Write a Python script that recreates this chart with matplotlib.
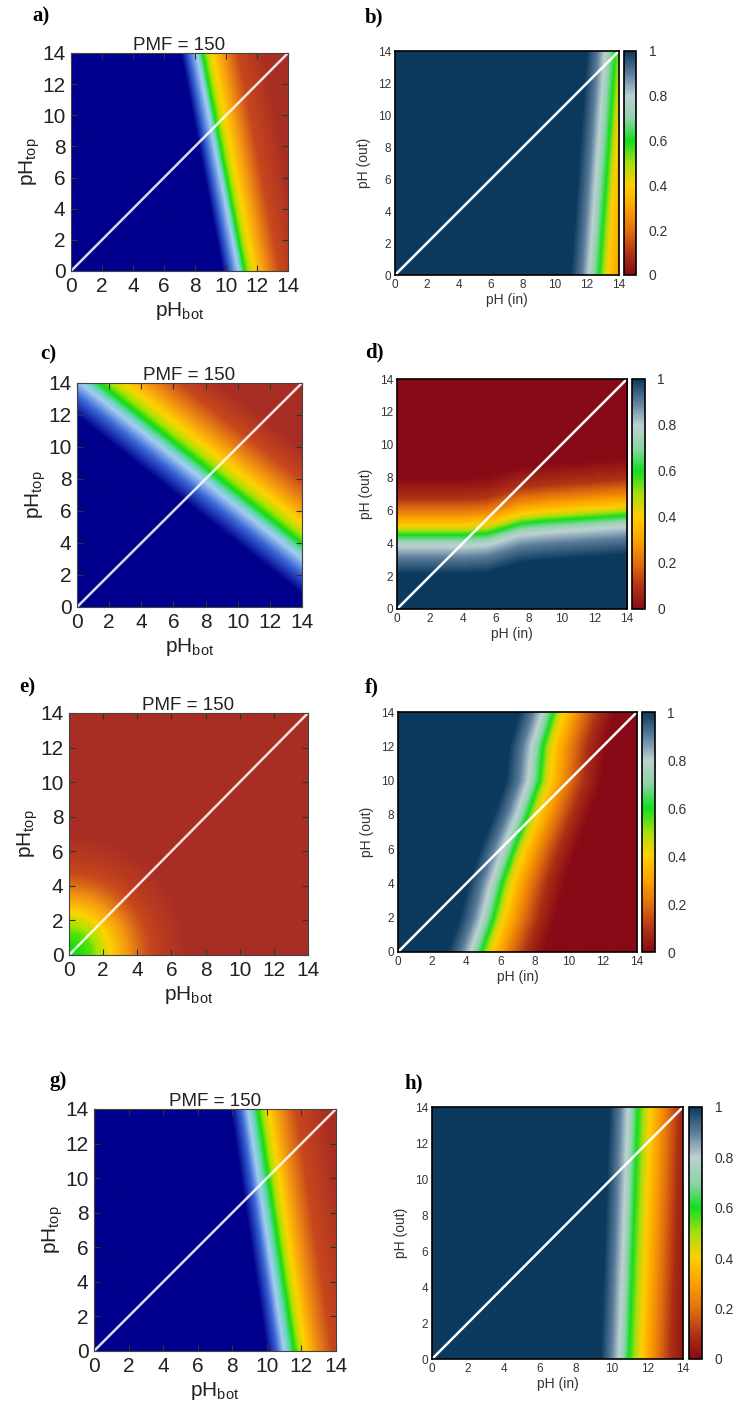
import numpy as np
import matplotlib.pyplot as plt
from matplotlib.colors import LinearSegmentedColormap

plt.rcParams['font.family'] = ['Liberation Sans', 'DejaVu Sans']
plt.rcParams['mathtext.default'] = 'regular'

W, H = 742, 1414

# colour scales, value 1 = blue side, 0 = red side
left_stops = [0.0, 0.15, 0.3, 0.42, 0.52, 0.6, 0.68, 0.76, 0.86, 1.0]
left_colors = ['#A82E24', '#C8481C', '#F59A10', '#FFD200', '#A6E400',
               '#12DC12', '#66D6B8', '#A4CCF2', '#3A66D6', '#00008C']
right_stops = [0.0, 0.1, 0.2, 0.3, 0.4, 0.5, 0.6, 0.7, 0.8, 0.9, 1.0]
right_colors = ['#880A16', '#B23414', '#E2700E', '#FCA200', '#FFCE00', '#A8DE10',
                '#12DE1E', '#8CD4A8', '#BCD0D2', '#5C7E9C', '#0B3A5E']

ticks = [0, 2, 4, 6, 8, 10, 12, 14]
cbar_ticks = [0, 0.2, 0.4, 0.6, 0.8, 1]
cbar_labels = ['0', '0.2', '0.4', '0.6', '0.8', '1']
diag_ph = [0, 14]

# a) green band position (pH_bot) along pH_top, and profile across it
a_y = [0, 14]
a_x = [11.2, 8.5]
a_offs = [-1.4, -0.9, -0.4, 0.0, 0.5, 1.3, 2.3, 4.0]
a_levs = [1.0, 0.86, 0.76, 0.6, 0.45, 0.3, 0.15, 0.0]

# b)
b_y = [0, 14]
b_x = [12.8, 13.8]
b_offs = [-1.8, -1.1, -0.6, 0.0, 0.5, 1.2, 2.5, 4.0]
b_levs = [1.0, 0.9, 0.78, 0.6, 0.4, 0.3, 0.15, 0.0]

# c)
c_y = [0, 14]
c_x = [19.0, 1.4]
c_offs = [-4.0, -2.4, -1.2, 0.0, 1.3, 2.9, 5.0, 7.5]
c_levs = [1.0, 0.86, 0.76, 0.6, 0.45, 0.3, 0.15, 0.0]

# d) green band position (pH out) along pH in
d_x = [0, 4, 5.5, 6.5, 7.5, 9, 14]
d_y = [4.5, 4.5, 4.6, 4.9, 5.2, 5.35, 5.7]
d_offs = [-2.4, -1.4, -0.6, 0.0, 0.4, 0.8, 1.3, 2.2, 3.5]
d_levs = [1.0, 0.9, 0.78, 0.6, 0.45, 0.35, 0.25, 0.1, 0.0]

# e) radial profile from the origin
e_r = [0.0, 1.3, 2.2, 3.1, 4.2, 5.5, 7.0]
e_levs = [0.62, 0.56, 0.45, 0.33, 0.2, 0.08, 0.0]

# f)
f_y = [0, 2, 4, 6, 8, 10, 12, 14]
f_x = [4.9, 5.6, 6.1, 6.8, 7.6, 8.3, 8.5, 9.1]
f_offs = [-2.0, -1.2, -0.6, 0.0, 0.4, 1.0, 1.8, 2.7, 3.7]
f_levs = [1.0, 0.9, 0.78, 0.6, 0.45, 0.33, 0.2, 0.08, 0.0]

# g)
g_y = [0, 14]
g_x = [11.6, 9.5]
g_offs = [-1.6, -1.0, -0.6, 0.0, 0.5, 1.2, 2.2, 4.0]
g_levs = [1.0, 0.86, 0.76, 0.6, 0.45, 0.3, 0.15, 0.0]

# h)
h_y = [0, 14]
h_x = [11.0, 11.5]
h_offs = [-1.6, -1.0, -0.5, 0.0, 0.5, 1.0, 1.7, 2.4, 3.0]
h_levs = [1.0, 0.9, 0.78, 0.6, 0.45, 0.33, 0.2, 0.08, 0.03]

left_cmap = LinearSegmentedColormap.from_list('left', list(zip(left_stops, left_colors)))
right_cmap = LinearSegmentedColormap.from_list('right', list(zip(right_stops, right_colors)))

grid = np.linspace(0, 14, 281)
X, Y = np.meshgrid(grid, grid)


def field_x(cy, cx, offs, levs):
    return np.interp(X - np.interp(Y, cy, cx), offs, levs)


def field_y(cx, cy, offs, levs):
    return np.interp(Y - np.interp(X, cx, cy), offs, levs)


def field_r(rs, levs):
    return np.interp(np.hypot(X, Y), rs, levs)


def frac(l, t, r, b):
    return [l / W, 1 - b / H, (r - l) / W, (b - t) / H]


fig = plt.figure(figsize=(W / 100, H / 100), dpi=100)


def letter(x, y, s):
    fig.text(x / W, 1 - y / H, s, family='Liberation Serif', fontweight='bold',
             fontsize=15, ha='left', va='center')


def left_panel(box, Z):
    ax = fig.add_axes(frac(*box))
    ax.imshow(Z, extent=[0, 14, 0, 14], origin='lower', cmap=left_cmap, vmin=0, vmax=1,
              aspect='auto', interpolation='bilinear')
    ax.plot(diag_ph, diag_ph, color='white', lw=1.8, alpha=0.85)
    ax.set_xlim(0, 14)
    ax.set_ylim(0, 14)
    ax.set_xticks(ticks)
    ax.set_yticks(ticks)
    ax.tick_params(direction='in', top=True, right=True, length=4, width=0.8,
                   labelsize=15, pad=4, color='#333333', labelcolor='#222222')
    for sp in ax.spines.values():
        sp.set_linewidth(0.8)
        sp.set_color('#444444')
    ax.set_title('PMF = 150', fontsize=13.5, pad=2, color='#222222')
    ax.set_xlabel(r'pH$_{bot}$', fontsize=15, labelpad=3, color='#222222')
    ax.set_ylabel(r'pH$_{top}$', fontsize=15, labelpad=0, color='#222222')
    return ax


def right_panel(box, cbox, Z):
    ax = fig.add_axes(frac(*box))
    im = ax.imshow(Z, extent=[0, 14, 0, 14], origin='lower', cmap=right_cmap, vmin=0, vmax=1,
                   aspect='auto', interpolation='bilinear')
    ax.plot(diag_ph, diag_ph, color='white', lw=1.8)
    ax.set_xlim(0, 14)
    ax.set_ylim(0, 14)
    ax.set_xticks(ticks)
    ax.set_yticks(ticks)
    ax.tick_params(length=0, labelsize=8.5, pad=3, labelcolor='#333333')
    for sp in ax.spines.values():
        sp.set_linewidth(1.2)
    ax.set_xlabel('pH (in)', fontsize=10, labelpad=1, color='#333333')
    ax.set_ylabel('pH (out)', fontsize=10, labelpad=5, color='#333333')
    cax = fig.add_axes(frac(*cbox))
    cb = fig.colorbar(im, cax=cax)
    cb.set_ticks(cbar_ticks)
    cb.set_ticklabels(cbar_labels)
    cb.outline.set_linewidth(1.2)
    cax.tick_params(length=0, labelsize=10, pad=9, labelcolor='#333333')
    return ax


left_panel((71, 53, 288, 271), field_x(a_y, a_x, a_offs, a_levs))
right_panel((395, 51, 619, 275), (624, 51, 636, 275), field_x(b_y, b_x, b_offs, b_levs))
left_panel((77, 383, 302, 607), field_x(c_y, c_x, c_offs, c_levs))
right_panel((397, 379, 627, 609), (632, 379, 645, 609), field_y(d_x, d_y, d_offs, d_levs))
left_panel((69, 713, 308, 955), field_r(e_r, e_levs))
right_panel((398, 712, 637, 952), (642, 712, 655, 952), field_x(f_y, f_x, f_offs, f_levs))
left_panel((94, 1109, 336, 1351), field_x(g_y, g_x, g_offs, g_levs))
right_panel((432, 1107, 683, 1359), (689, 1107, 702, 1359), field_x(h_y, h_x, h_offs, h_levs))

letter(32, 16, 'a)')
letter(365, 17, 'b)')
letter(40, 354, 'c)')
letter(365, 352, 'd)')
letter(19, 687, 'e)')
letter(365, 687, 'f)')
letter(50, 1081, 'g)')
letter(404, 1083, 'h)')

fig.savefig('out.png', dpi=100)
